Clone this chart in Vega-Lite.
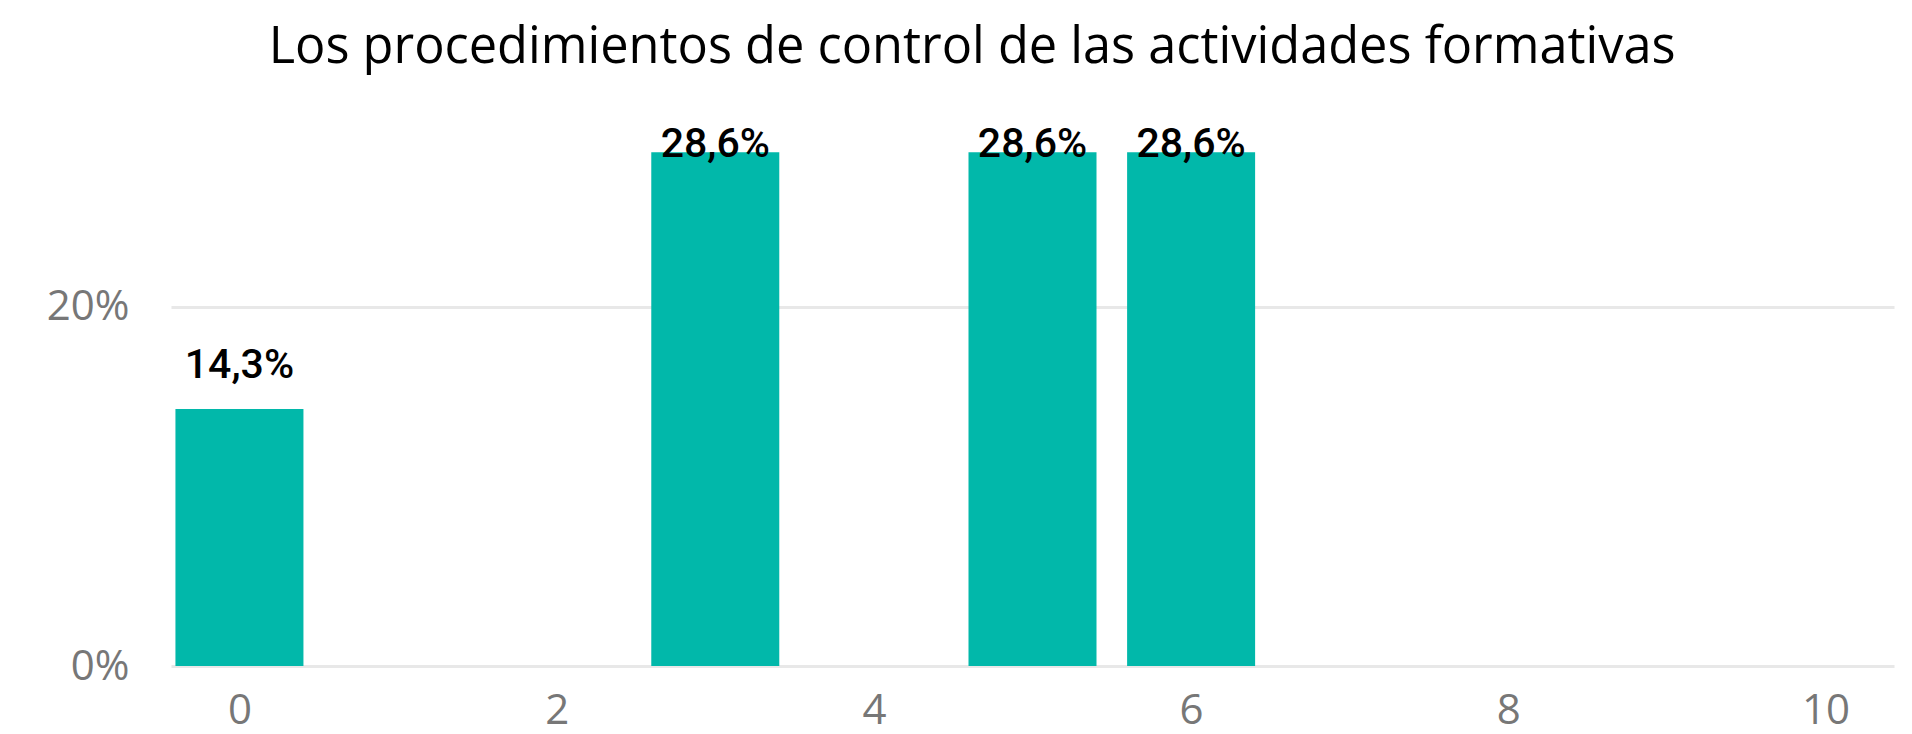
{
  "$schema": "https://vega.github.io/schema/vega-lite/v6.json",
  "width": 1723,
  "height": 539,
  "autosize": {"type": "none"},
  "padding": {"left": 171, "top": 127, "right": 18, "bottom": 68},
  "title": {
    "text": "Los procedimientos de control de las actividades formativas",
    "font": "Open Sans",
    "fontSize": 50.5,
    "fontWeight": "normal",
    "color": "#000000",
    "anchor": "middle",
    "frame": "bounds",
    "dx": 2,
    "offset": 51
  },
  "config": {
    "view": {"stroke": null},
    "locale": {
      "number": {"decimal": ",", "thousands": ".", "grouping": [3], "currency": ["", " €"]}
    }
  },
  "data": {
    "values": [
      {"score": 0, "share": 0.143},
      {"score": 3, "share": 0.286},
      {"score": 5, "share": 0.286},
      {"score": 6, "share": 0.286}
    ]
  },
  "encoding": {
    "x": {
      "field": "score",
      "type": "quantitative",
      "scale": {"domain": [-0.4, 10.4], "nice": false, "zero": false},
      "axis": {
        "title": null,
        "values": [0, 2, 4, 6, 8, 10],
        "grid": false,
        "domain": false,
        "ticks": false,
        "labelFont": "Open Sans",
        "labelFontSize": 42,
        "labelColor": "#777777",
        "labelPadding": 24
      }
    },
    "y": {
      "field": "share",
      "type": "quantitative",
      "scale": {"domain": [0, 0.3], "nice": false},
      "axis": {
        "title": null,
        "values": [0, 0.2],
        "format": ".0%",
        "grid": true,
        "gridColor": "#e8e8e8",
        "gridWidth": 3,
        "domain": false,
        "ticks": false,
        "labelFont": "Open Sans",
        "labelFontSize": 42,
        "labelColor": "#777777",
        "labelPadding": 42
      }
    }
  },
  "layer": [
    {
      "mark": {"type": "bar", "size": 128, "color": "#01B8AA"}
    },
    {
      "transform": [{"filter": "datum.share < 0.25"}],
      "mark": {"type": "text", "font": "Roboto", "fontSize": 41, "fontWeight": 500, "color": "#000000", "baseline": "alphabetic", "align": "center", "dy": -31},
      "encoding": {"text": {"field": "share", "type": "quantitative", "format": ".1%"}}
    },
    {
      "transform": [{"filter": "datum.share >= 0.25"}],
      "mark": {"type": "text", "font": "Roboto", "fontSize": 41, "fontWeight": 500, "color": "#000000", "baseline": "alphabetic", "align": "center", "dy": 5},
      "encoding": {"text": {"field": "share", "type": "quantitative", "format": ".1%"}}
    }
  ]
}
